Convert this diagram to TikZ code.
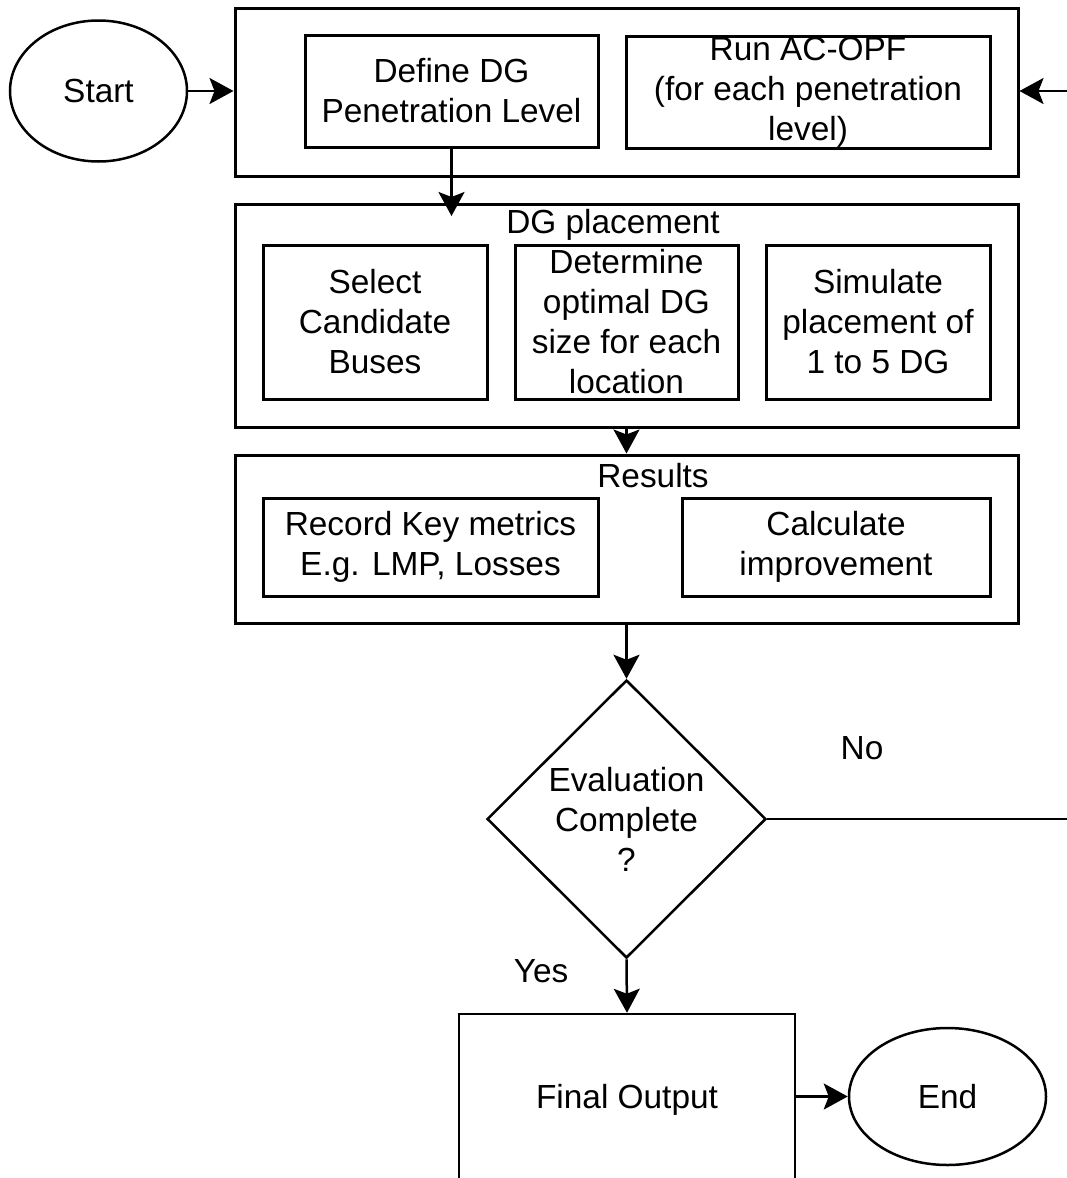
\documentclass[tikz,border=0pt]{standalone}
\usepackage{fontspec}
\setmainfont{Liberation Sans}
\usetikzlibrary{arrows.meta,shapes.geometric}

\tikzset{
  every node/.style={font=\fontsize{33.4pt}{40pt}\selectfont},
  stage/.style={draw, line width=3pt, inner sep=0pt, minimum width=783pt},
  task/.style={draw, line width=3pt, inner sep=0pt, align=center},
  terminal/.style={draw, ellipse, line width=2.5pt, inner sep=0pt},
  decision/.style={draw, diamond, line width=2.5pt, inner sep=0pt, align=center},
  flow/.style={line width=2.5pt, -{Stealth[length=24pt,width=26pt,inset=5pt]}},
  caption/.style={anchor=base, inner sep=0pt},
}

\begin{document}
\begin{tikzpicture}[x=1pt,y=-1pt]
  \useasboundingbox (0,0) rectangle (1067,1178);
  \clip (0,0) rectangle (1067,1178);
  \fill[white] (0,0) rectangle (1067,1178);

  % terminals
  \node[terminal, minimum width=177pt, minimum height=141pt] (start) at (98.5,91) {Start};
  \node[terminal, minimum width=197pt, minimum height=137pt] (endnode) at (947.5,1096.5) {End};

  % stage 1: penetration level and AC-OPF
  \node[stage, minimum height=168pt] (stage1) at (626.5,92) {};
  \node[task, minimum width=293pt, minimum height=112pt] (define) at (451.5,91)
       {Define DG\\Penetration Level};
  \node[task, minimum width=364pt, minimum height=112pt] (acopf) at (808,92)
       {Run AC-OPF\\(for each penetration\\level)};

  % stage 2: DG placement
  \node[stage, minimum height=223pt] (place) at (626.5,315.5) {};
  \node[caption] (placetitle) at (613,233) {DG placement};
  \node[task, minimum width=224pt, minimum height=154pt] (select) at (375,322)
       {Select\\Candidate\\Buses};
  \node[task, minimum width=223pt, minimum height=154pt] (determine) at (626.5,322)
       {Determine\\optimal DG\\size for each\\location};
  \node[task, minimum width=224pt, minimum height=154pt] (simulate) at (878,322)
       {Simulate\\placement of\\1 to 5 DG};

  % stage 3: results
  \node[stage, minimum height=168pt] (results) at (626.5,539) {};
  \node[caption] (resultstitle) at (653,487) {Results};
  \node[task, minimum width=335pt, minimum height=98pt] (record) at (430.5,547)
       {Record Key metrics\\E.g. LMP, Losses};
  \node[task, minimum width=308pt, minimum height=98pt] (improve) at (836,547)
       {Calculate\\improvement};

  % decision and output (the output box runs past the lower edge)
  \node[decision, minimum width=279pt, minimum height=278pt] (decide) at (626.5,819)
       {Evaluation\\Complete\\?};
  \node[draw, line width=2.5pt, minimum width=336pt, minimum height=184pt, inner sep=0pt,
        label={[yshift=6pt]center:Final Output}]
       (output) at (627,1106) {};

  \node[caption] (nolabel) at (862,759) {No};
  \node[caption] (yeslabel) at (541,982) {Yes};

  % connectors
  \coordinate (entry) at (451.5,216);
  \coordinate (loop) at (1100,819);
  \draw[flow] (start.east) -- (start.east -| stage1.west);
  \draw[flow] (define.south) -- (entry);
  \draw[flow] (place.south) -- (results.north);
  \draw[flow] (results.south) -- (decide.north);
  \draw[flow] (decide.south) -- (output.north);
  \draw[flow] (output.east |- endnode.west) -- (endnode.west);
  \draw[flow] (decide.east) -- (loop) |- (start.east -| stage1.east);
\end{tikzpicture}
\end{document}
